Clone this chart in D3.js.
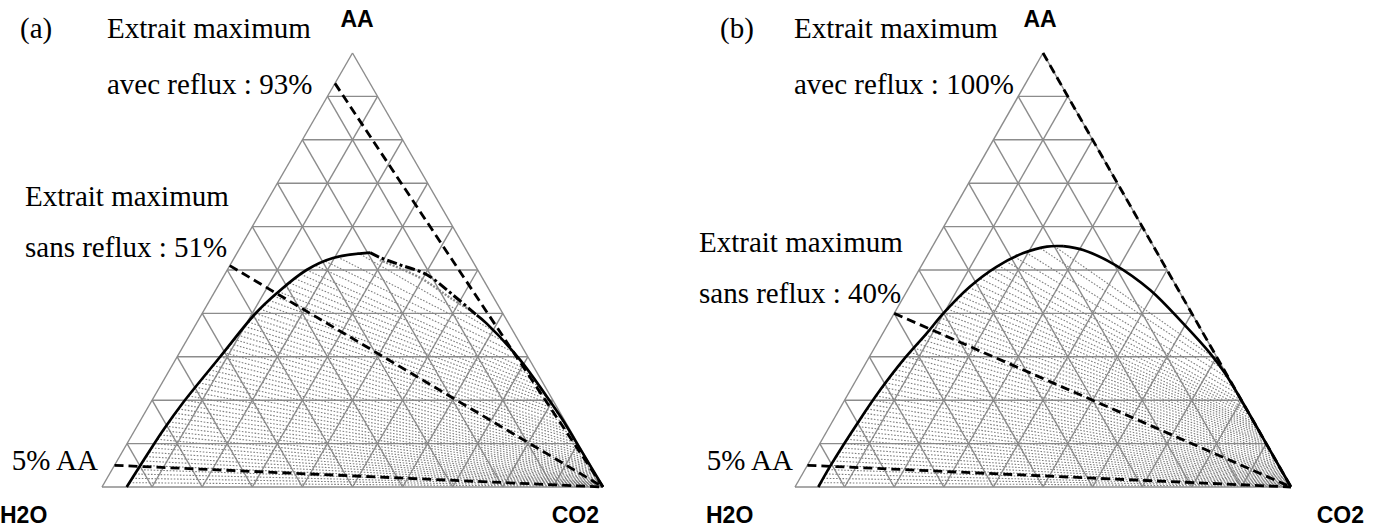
<!DOCTYPE html>
<html><head><meta charset="utf-8">
<script src="https://cdn.jsdelivr.net/npm/d3@7"></script>
<style>body{margin:0;background:#fff}svg{display:block}</style>
</head><body>
<script>
// ---------- DATA (ternary compositions in %, AA = acetic acid) ----------
const vertexLabels = ["AA", "H2O", "CO2"];
const panelTags = ["(a)", "(b)"];

// Panel (a) binodal: left branch (H2O-rich), from base up to the top
const binA_left_aa  = [0, 5.07, 13.13, 19.59, 29.95, 39.86, 44.70, 50.0, 52.76, 53.99];
const binA_left_co2 = [4.93, 5.17, 5.67, 6.48, 8.57, 10.61, 12.58, 15.82, 19.73, 26.5];
// Panel (a) dash-dot section of the binodal
const binA_dd_aa  = [54.0, 52.9, 51.2, 48.9, 44.2, 39.6];
const binA_dd_co2 = [26.5, 29.0, 33.9, 40.4, 48.0, 55.0];
// Panel (a) right branch (CO2-rich), solid
const binA_right_aa  = [39.6, 37.7, 29.3, 20.8, 15.4, 10.8, 0];
const binA_right_co2 = [55.0, 57.9, 68.8, 78.4, 84.3, 89.0, 100];
// Panel (a) gray dotted band under the dash-dot section
const bandA_aa  = [52.3, 48.2, 43.6, 40.3];
const bandA_co2 = [29.3, 39.4, 47.7, 53.9];
// Panel (a) tie lines (left end on H2O-rich branch, right end on CO2-rich branch)
const tieA_L_aa  = [1,2,3,4,5,6,7,8,9,10,11,12,13,14,15,16,17,18,19,20,21,22,23,24,25,26,27,28,29,30,31,32,33,34,35,36,37,38,39,40,41,42,43,44,45,46,47,48,49,50,51,52,53,54];
const tieA_L_co2 = [4.98,5.03,5.08,5.12,5.17,5.23,5.29,5.36,5.42,5.48,5.54,5.61,5.67,5.73,5.85,5.97,6.1,6.23,6.38,6.55,6.75,6.95,7.15,7.35,7.55,7.75,7.95,8.15,8.36,8.57,8.77,8.98,9.18,9.39,9.59,9.8,10.0,10.2,10.42,10.65,11.05,11.45,11.85,12.25,12.75,13.35,13.95,14.55,15.2,15.82,17.2,18.6,20.5,24.0];
const tieA_R_aa  = [0.1,0.2,0.3,0.4,0.5,0.6,0.7,0.8,0.9,1.0,1.2,1.4,1.6,1.8,2.0,2.3,2.6,2.9,3.2,3.5,3.85,4.2,4.6,5.0,5.4,5.8,6.3,6.8,7.4,8.0,8.7,9.5,10.2,11.0,11.7,12.5,13.2,14.0,15.0,16.0,17.0,18.0,19.0,20.0,21.0,22.0,23.2,24.5,25.7,27.0,29.0,31.0,33.5,36.0];
const tieA_R_co2 = [99.9,99.8,99.7,99.6,99.5,99.4,99.3,99.2,99.1,99.0,98.8,98.6,98.4,98.2,98.0,97.7,97.4,97.1,96.8,96.5,96.1,95.8,95.4,95.0,94.5,94.1,93.6,93.1,92.5,91.9,91.2,90.4,89.6,88.8,88.0,87.2,86.5,85.7,84.7,83.6,82.5,81.4,80.4,79.3,78.2,77.1,75.8,74.3,73.0,71.5,69.1,66.8,63.6,60.1];
// Panel (a) straight dashed lines: AA % on the H2O-AA side -> CO2 corner
const dashA = [5, 51, 93];
const labelsA = ["5% AA", "Extrait maximum", "sans reflux : 51%", "Extrait maximum", "avec reflux : 93%"];

// Panel (b) binodal
const binB_left_aa  = [0, 5.1, 15.4, 22.4, 29.3, 35.4, 40.0, 46.2, 50.8, 53.9, 55.4, 55.5];
const binB_left_co2 = [4.7, 4.7, 5.3, 6.0, 7.2, 8.85, 9.9, 12.2, 15.3, 19.1, 23.1, 26.3];
const binB_right_aa  = [55.5, 54.6, 51.2, 45.4, 37.7, 30.8, 26.2, 18.5, 9.3, 0];
const binB_right_co2 = [26.3, 30.8, 38.9, 48.9, 59.4, 68.3, 73.6, 81.5, 90.7, 100];
// Panel (b) tie lines
const tieB_L_aa  = [1,2,3,4,5,6,7,8,9,10,11,12,13,14,15,16,17,18,19,20,21,22,23,24,25,26,27,28,29,30,31,32,33,34,35,36,37,38,39,40,41,42,43,44,45,46,47,48,49,50,51,52,53,54,55,55.5];
const tieB_L_co2 = [4.7,4.7,4.7,4.7,4.7,4.75,4.8,4.85,4.9,4.95,5.0,5.1,5.15,5.2,5.3,5.35,5.45,5.55,5.65,5.75,5.85,5.95,6.1,6.25,6.45,6.6,6.8,7.0,7.2,7.4,7.65,7.95,8.2,8.5,8.75,9.0,9.2,9.45,9.7,9.9,10.25,10.6,11.0,11.4,11.8,12.1,12.7,13.4,14.1,14.8,15.5,16.5,17.8,19.6,22.0,24.5];
const tieB_R_aa  = [0.1,0.2,0.3,0.4,0.5,0.65,0.8,0.95,1.1,1.3,1.5,1.7,1.9,2.1,2.3,2.55,2.8,3.05,3.3,3.6,3.9,4.2,4.5,4.85,5.2,5.6,6.0,6.5,7.0,7.5,8.0,8.5,9.0,9.5,10.0,10.5,11.0,11.5,12.0,12.5,13.0,13.5,14.0,14.5,15.0,15.7,16.5,17.2,18.0,19.0,20.0,21.5,23.0,25.0,27.0,30.0];
const tieB_R_co2 = [99.9,99.8,99.7,99.6,99.5,99.35,99.2,99.05,98.9,98.7,98.5,98.3,98.1,97.9,97.7,97.45,97.2,96.95,96.7,96.4,96.1,95.8,95.5,95.15,94.8,94.4,94.0,93.5,93.0,92.5,92.0,91.5,91.0,90.5,90.0,89.5,89.0,88.5,88.0,87.5,87.0,86.5,86.0,85.5,85.0,84.3,83.5,82.8,82.0,81.0,80.0,78.5,77.0,75.0,73.0,69.2];
const dashB = [5, 40, 100];
const labelsB = ["5% AA", "Extrait maximum", "sans reflux : 40%", "Extrait maximum", "avec reflux : 100%"];

// ---------- DRAWING ----------
const svg = d3.select("body").append("svg").attr("width", 1385).attr("height", 529);
const GRID = "#8c8c8c";
const SERIF = "'Liberation Serif','Times New Roman',serif";
const SANS = "'Liberation Sans',Arial,sans-serif";

function zip(aa, co2) { return aa.map((a, i) => [a, co2[i]]); }

function drawPanel(cfg) {
  const g = svg.append("g");
  const xs = d3.scaleLinear().domain([0, 100]).range([cfg.left, cfg.right]);
  const ys = d3.scaleLinear().domain([0, 100]).range([cfg.bottom, cfg.top]);
  const P = d => [xs(d[1] + d[0] / 2), ys(d[0])]; // d = [aa, co2]
  const line = d3.line().x(d => P(d)[0]).y(d => P(d)[1]);
  const curve = d3.line().x(d => P(d)[0]).y(d => P(d)[1]).curve(d3.curveCatmullRom.alpha(0.5));

  // grid
  const ticks = d3.range(10, 100, 10);
  const gl = [];
  ticks.forEach(k => {
    gl.push([[k, 0], [k, 100 - k]]);            // constant AA
    gl.push([[0, k], [100 - k, k]]);            // constant CO2
    gl.push([[0, 100 - k], [100 - k, 0]]);      // constant H2O
  });
  gl.push([[0, 0], [0, 100]], [[0, 0], [100, 0]], [[0, 100], [100, 0]]);
  g.append("g").selectAll("path").data(gl).join("path")
    .attr("d", line).attr("fill", "none").attr("stroke", GRID).attr("stroke-width", 1.4);

  // tie lines
  const ties = cfg.tLa.map((a, i) => [[a, cfg.tLc[i]], [cfg.tRa[i], cfg.tRc[i]]]);
  g.append("g").selectAll("path").data(ties).join("path")
    .attr("d", line).attr("fill", "none").attr("stroke", "#7f7f7f")
    .attr("stroke-width", 1.1).attr("stroke-dasharray", "1.6,1.6");

  if (cfg.band) {
    g.append("path").attr("d", curve(cfg.band)).attr("fill", "none").attr("stroke", "#8a8a8a")
      .attr("stroke-width", 2.4).attr("stroke-dasharray", "2,1.5");
  }

  // binodal
  g.append("path").attr("d", curve(cfg.left_)).attr("fill", "none").attr("stroke", "#000").attr("stroke-width", 2.7);
  if (cfg.dd) {
    g.append("path").attr("d", curve(cfg.dd)).attr("fill", "none").attr("stroke", "#000")
      .attr("stroke-width", 3).attr("stroke-dasharray", "10,3,3,3");
  }
  g.append("path").attr("d", curve(cfg.right_)).attr("fill", "none").attr("stroke", "#000").attr("stroke-width", 2.7);

  // dashed lines
  g.append("g").selectAll("path").data(cfg.dash).join("path")
    .attr("d", p => line([[p, 0], [0, 100]])).attr("fill", "none").attr("stroke", "#000")
    .attr("stroke-width", 2.8).attr("stroke-dasharray", "9,5");

  // labels
  const t = (x, y, s, f, size, w, anchor) => svg.append("text").attr("x", x).attr("y", y).text(s)
    .attr("font-family", f).attr("font-size", size).attr("font-weight", w || "normal")
    .attr("text-anchor", anchor || "start").attr("fill", "#000");
  t(cfg.tagX, 38, cfg.tag, SERIF, 29);
  t(cfg.topX, 38, cfg.labels[3], SERIF, 29);
  t(cfg.topX, 94, cfg.labels[4], SERIF, 29);
  t(cfg.midX, cfg.midY1, cfg.labels[1], SERIF, 29);
  t(cfg.midX, cfg.midY2, cfg.labels[2], SERIF, 29);
  t(cfg.fiveX, 470, cfg.labels[0], SERIF, 29, null, "end");
  t(cfg.aaX, 27, vertexLabels[0], SANS, 23, "bold", "middle");
  t(cfg.h2oX, 523, vertexLabels[1], SANS, 23, "bold", "start");
  t(cfg.co2X, 523, vertexLabels[2], SANS, 23, "bold", "end");
}

drawPanel({
  left: 102, right: 603, top: 53, bottom: 487,
  left_: zip(binA_left_aa, binA_left_co2), dd: zip(binA_dd_aa, binA_dd_co2), right_: zip(binA_right_aa, binA_right_co2),
  band: zip(bandA_aa, bandA_co2),
  tLa: tieA_L_aa, tLc: tieA_L_co2, tRa: tieA_R_aa, tRc: tieA_R_co2,
  dash: dashA, labels: labelsA, tag: panelTags[0],
  tagX: 20, topX: 107, midX: 25, midY1: 206, midY2: 257, fiveX: 98,
  aaX: 357, h2oX: 0, co2X: 599
});
drawPanel({
  left: 795, right: 1291, top: 53, bottom: 487,
  left_: zip(binB_left_aa, binB_left_co2), dd: null, right_: zip(binB_right_aa, binB_right_co2),
  band: null,
  tLa: tieB_L_aa, tLc: tieB_L_co2, tRa: tieB_R_aa, tRc: tieB_R_co2,
  dash: dashB, labels: labelsB, tag: panelTags[1],
  tagX: 720, topX: 794, midX: 699, midY1: 252, midY2: 303, fiveX: 793,
  aaX: 1040, h2oX: 706, co2X: 1364
});
</script>
</body></html>
